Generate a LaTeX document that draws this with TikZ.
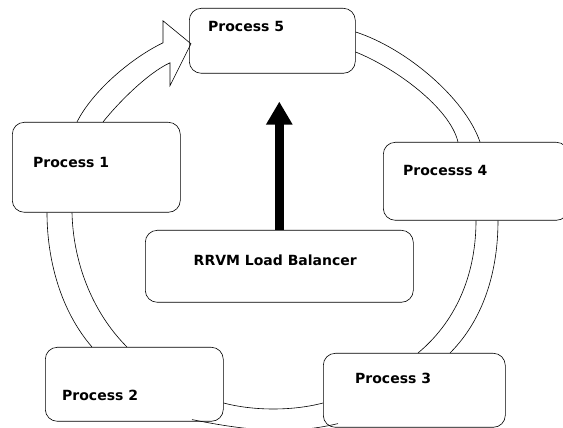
\documentclass[tikz,border=0pt]{standalone}
\usepackage{fontspec}
\setsansfont{DejaVu Sans}
\usetikzlibrary{arrows.meta}

\tikzset{
    proc/.style={draw, line width=.6pt, rounded corners=12pt, anchor=north west},
    lbl/.style={font=\sffamily\bfseries\fontsize{14}{16}\selectfont, inner sep=0pt, anchor=west},
    ring/.style={line width=.6pt},
    bigarrow/.style={line width=9pt, -{Triangle[width=25pt,length=23pt]}}
}

\begin{document}
\begin{tikzpicture}[x=1pt, y=1pt]
            \useasboundingbox (0, 0) rectangle (563, 428);
            \begin{scope}
                \node[proc, minimum width=166pt, minimum height=65pt] (p5) at (189, 420) {};
                \node[proc, minimum width=168pt, minimum height=90pt] (p1) at (12, 306) {};
                \node[proc, minimum width=185pt, minimum height=78pt] (p4) at (383, 286) {};
                \node[proc, minimum width=268pt, minimum height=72pt] (lb) at (145, 198) {};
                \node[proc, minimum width=178pt, minimum height=74pt] (p2) at (45, 81) {};
                \node[proc, minimum width=182pt, minimum height=74pt] (p3) at (323, 75) {};

                \node[lbl] (t5) at ([shift={(19,-19)}]p5.north west) {Process 5};
                \node[lbl] (t1) at ([shift={(21,-41)}]p1.north west) {Process 1};
                \node[lbl] (t4) at ([shift={(20,-29)}]p4.north west) {Processs 4};
                \node[lbl, anchor=center] (tlb) at ([shift={(-4,6)}]lb.center) {RRVM Load Balancer};
                \node[lbl] (t2) at ([shift={(17,-48)}]p2.north west) {Process 2};
                \node[lbl] (t3) at ([shift={(32,-25)}]p3.north west) {Process 3};

                \coordinate (tip) at ([shift={(2,-3)}]p5.west);
                \draw[ring] ([xshift=65pt]p1.north west) .. controls +(15,30) and +(-33,-16) .. ([shift={(-28,1)}]tip)
                    -- ++(0,22) -- (tip) -- ++(-21,-42) -- ++(0,23)
                    .. controls +(-22,-10) and +(15,19) .. ([xshift=91pt]p1.north west);

                \draw[ring] ([yshift=-24pt]p5.north east) .. controls +(50,-16) and +(-15,44) .. ([xshift=97pt]p4.north west);
                \draw[ring] ([yshift=-44pt]p5.north east) .. controls +(40,-16) and +(-8,34) .. ([xshift=75pt]p4.north west);

                \draw[ring] ([xshift=115pt]p4.south west) .. controls +(0,-48) and +(35,35) .. ([xshift=127pt]p3.north west);
                \draw[ring] ([xshift=93pt]p4.south west) .. controls +(0,-48) and +(42,35) .. ([xshift=95pt]p3.north west);

                \draw[ring] ([yshift=-50pt]p3.north west) .. controls +(-30,-8) and +(30,-8) .. ([yshift=-56pt]p2.north east);
                \draw[ring] ([shift={(15,4)}]p3.south west) .. controls +(-50,-12) and +(50,-10) .. ([shift={(147,2)}]p2.south west);

                \draw[ring] ([xshift=35pt]p1.south west) .. controls +(0,-46) and +(-32,37) .. ([xshift=47pt]p2.north west);
                \draw[ring] ([xshift=60pt]p1.south west) .. controls +(1,-46) and +(-37,37) .. ([xshift=82pt]p2.north west);

                \draw[bigarrow, shorten >=28pt] (lb.north) -- (lb.north |- p5.south);
            \end{scope}
        \end{tikzpicture}
\end{document}
